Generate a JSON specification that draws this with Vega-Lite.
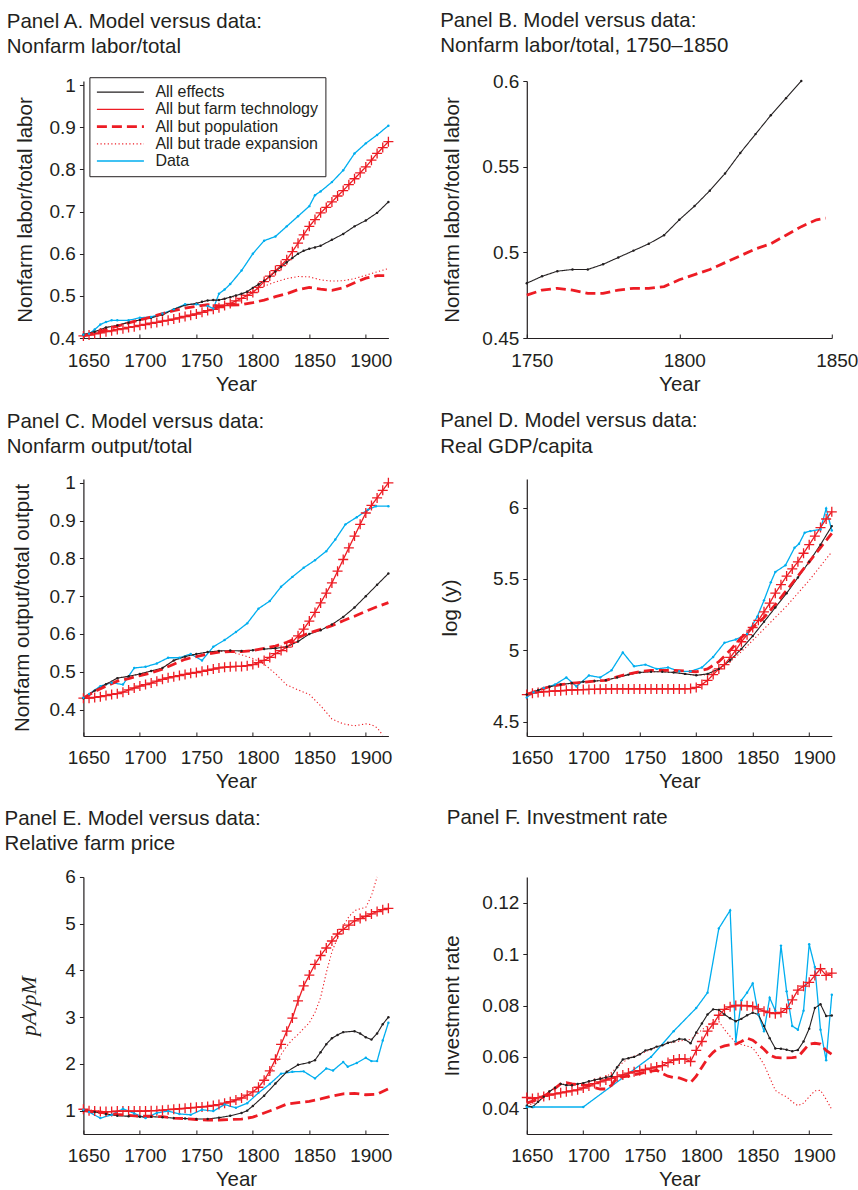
{
"$schema": "https://vega.github.io/schema/vega-lite/v6.json",
"background": "white",
"padding": {"left": 4.4, "top": 10, "right": 10, "bottom": 5},
"bounds": "flush",
"columns": 2,
"spacing": {"row": 141, "column": 138.4},
"config": {
 "view": {"stroke": null},
 "font": "Liberation Sans",
 "title": {"font": "Liberation Sans", "fontSize": 20.5, "fontWeight": "normal", "color": "#231f20", "anchor": "start", "frame": "group", "lineHeight": 25.7, "offset": 20},
 "axis": {"labelFont": "Liberation Sans", "labelFontSize": 19, "labelColor": "#231f20", "titleFont": "Liberation Sans", "titleFontSize": 20.5, "titleFontWeight": "normal", "titleColor": "#231f20", "domainColor": "#231f20", "domainWidth": 1.2, "tickColor": "#231f20", "tickWidth": 1, "grid": false, "labelFlush": false, "labelOverlap": false, "labelBound": false},
 "axisX": {"tickSize": -4, "labelPadding": 17, "labelOffset": 5, "titlePadding": 4, "format": "d"},
 "axisY": {"tickSize": 4, "labelPadding": 4, "format": "~g"}
},
"resolve": {"scale": {"color": "independent", "strokeDash": "independent"}, "legend": {"color": "independent", "strokeDash": "independent"}},
"datasets": {
"A": [
{"series":"DA","year":1650,"value":0.408},{"series":"DA","year":1655,"value":0.41},{"series":"DA","year":1660,"value":0.42},{"series":"DA","year":1665,"value":0.432},{"series":"DA","year":1670,"value":0.438},{"series":"DA","year":1675,"value":0.442},{"series":"DA","year":1680,"value":0.442},{"series":"DA","year":1690,"value":0.442},{"series":"DA","year":1700,"value":0.448},{"series":"DA","year":1710,"value":0.45},{"series":"DA","year":1720,"value":0.458},{"series":"DA","year":1730,"value":0.468},{"series":"DA","year":1740,"value":0.48},{"series":"DA","year":1750,"value":0.48},{"series":"DA","year":1760,"value":0.476},{"series":"DA","year":1765,"value":0.47},{"series":"DA","year":1770,"value":0.505},{"series":"DA","year":1775,"value":0.515},{"series":"DA","year":1780,"value":0.528},{"series":"DA","year":1790,"value":0.56},{"series":"DA","year":1800,"value":0.6},{"series":"DA","year":1810,"value":0.631},{"series":"DA","year":1820,"value":0.641},{"series":"DA","year":1830,"value":0.665},{"series":"DA","year":1840,"value":0.689},{"series":"DA","year":1850,"value":0.713},{"series":"DA","year":1855,"value":0.739},{"series":"DA","year":1860,"value":0.748},{"series":"DA","year":1870,"value":0.77},{"series":"DA","year":1880,"value":0.798},{"series":"DA","year":1890,"value":0.838},{"series":"DA","year":1900,"value":0.862},{"series":"DA","year":1910,"value":0.882},{"series":"DA","year":1920,"value":0.904},
{"series":"TE","year":1650,"value":0.408},{"series":"TE","year":1660,"value":0.415},{"series":"TE","year":1670,"value":0.425},{"series":"TE","year":1680,"value":0.43},{"series":"TE","year":1690,"value":0.437},{"series":"TE","year":1700,"value":0.443},{"series":"TE","year":1710,"value":0.448},{"series":"TE","year":1720,"value":0.455},{"series":"TE","year":1730,"value":0.468},{"series":"TE","year":1740,"value":0.478},{"series":"TE","year":1750,"value":0.482},{"series":"TE","year":1760,"value":0.489},{"series":"TE","year":1770,"value":0.49},{"series":"TE","year":1780,"value":0.496},{"series":"TE","year":1790,"value":0.503},{"series":"TE","year":1800,"value":0.512},{"series":"TE","year":1810,"value":0.523},{"series":"TE","year":1820,"value":0.533},{"series":"TE","year":1830,"value":0.541},{"series":"TE","year":1840,"value":0.546},{"series":"TE","year":1850,"value":0.545},{"series":"TE","year":1860,"value":0.538},{"series":"TE","year":1870,"value":0.535},{"series":"TE","year":1880,"value":0.536},{"series":"TE","year":1890,"value":0.541},{"series":"TE","year":1900,"value":0.549},{"series":"TE","year":1910,"value":0.557},{"series":"TE","year":1920,"value":0.565},
{"series":"AE","year":1650,"value":0.408},{"series":"AE","year":1660,"value":0.415},{"series":"AE","year":1670,"value":0.425},{"series":"AE","year":1680,"value":0.43},{"series":"AE","year":1690,"value":0.437},{"series":"AE","year":1700,"value":0.443},{"series":"AE","year":1710,"value":0.448},{"series":"AE","year":1720,"value":0.455},{"series":"AE","year":1730,"value":0.468},{"series":"AE","year":1740,"value":0.478},{"series":"AE","year":1750,"value":0.482},{"series":"AE","year":1755,"value":0.486},{"series":"AE","year":1760,"value":0.489},{"series":"AE","year":1765,"value":0.49},{"series":"AE","year":1770,"value":0.49},{"series":"AE","year":1775,"value":0.493},{"series":"AE","year":1780,"value":0.497},{"series":"AE","year":1785,"value":0.501},{"series":"AE","year":1790,"value":0.505},{"series":"AE","year":1795,"value":0.51},{"series":"AE","year":1800,"value":0.519},{"series":"AE","year":1805,"value":0.527},{"series":"AE","year":1810,"value":0.536},{"series":"AE","year":1815,"value":0.546},{"series":"AE","year":1820,"value":0.558},{"series":"AE","year":1825,"value":0.569},{"series":"AE","year":1830,"value":0.58},{"series":"AE","year":1835,"value":0.59},{"series":"AE","year":1840,"value":0.6},{"series":"AE","year":1845,"value":0.607},{"series":"AE","year":1850,"value":0.612},{"series":"AE","year":1855,"value":0.615},{"series":"AE","year":1860,"value":0.619},{"series":"AE","year":1870,"value":0.633},{"series":"AE","year":1880,"value":0.647},{"series":"AE","year":1890,"value":0.665},{"series":"AE","year":1900,"value":0.679},{"series":"AE","year":1910,"value":0.697},{"series":"AE","year":1920,"value":0.723},
{"series":"PO","year":1650,"value":0.405},{"series":"PO","year":1660,"value":0.412},{"series":"PO","year":1670,"value":0.42},{"series":"PO","year":1680,"value":0.428},{"series":"PO","year":1690,"value":0.436},{"series":"PO","year":1700,"value":0.443},{"series":"PO","year":1710,"value":0.45},{"series":"PO","year":1720,"value":0.458},{"series":"PO","year":1730,"value":0.465},{"series":"PO","year":1740,"value":0.471},{"series":"PO","year":1750,"value":0.475},{"series":"PO","year":1760,"value":0.479},{"series":"PO","year":1770,"value":0.476},{"series":"PO","year":1780,"value":0.478},{"series":"PO","year":1790,"value":0.479},{"series":"PO","year":1800,"value":0.484},{"series":"PO","year":1810,"value":0.49},{"series":"PO","year":1820,"value":0.498},{"series":"PO","year":1830,"value":0.505},{"series":"PO","year":1840,"value":0.515},{"series":"PO","year":1850,"value":0.52},{"series":"PO","year":1860,"value":0.516},{"series":"PO","year":1870,"value":0.513},{"series":"PO","year":1880,"value":0.519},{"series":"PO","year":1890,"value":0.531},{"series":"PO","year":1900,"value":0.542},{"series":"PO","year":1910,"value":0.548},{"series":"PO","year":1920,"value":0.548},
{"series":"FT","year":1650,"value":0.405},{"series":"FT","year":1655,"value":0.407},{"series":"FT","year":1660,"value":0.41},{"series":"FT","year":1665,"value":0.412},{"series":"FT","year":1670,"value":0.415},{"series":"FT","year":1675,"value":0.417},{"series":"FT","year":1680,"value":0.42},{"series":"FT","year":1685,"value":0.422},{"series":"FT","year":1690,"value":0.425},{"series":"FT","year":1695,"value":0.427},{"series":"FT","year":1700,"value":0.43},{"series":"FT","year":1705,"value":0.432},{"series":"FT","year":1710,"value":0.435},{"series":"FT","year":1715,"value":0.437},{"series":"FT","year":1720,"value":0.44},{"series":"FT","year":1725,"value":0.442},{"series":"FT","year":1730,"value":0.445},{"series":"FT","year":1735,"value":0.448},{"series":"FT","year":1740,"value":0.451},{"series":"FT","year":1745,"value":0.454},{"series":"FT","year":1750,"value":0.457},{"series":"FT","year":1755,"value":0.461},{"series":"FT","year":1760,"value":0.465},{"series":"FT","year":1765,"value":0.468},{"series":"FT","year":1770,"value":0.472},{"series":"FT","year":1775,"value":0.477},{"series":"FT","year":1780,"value":0.482},{"series":"FT","year":1785,"value":0.488},{"series":"FT","year":1790,"value":0.494},{"series":"FT","year":1795,"value":0.501},{"series":"FT","year":1800,"value":0.508},{"series":"FT","year":1805,"value":0.52},{"series":"FT","year":1810,"value":0.534},{"series":"FT","year":1815,"value":0.547},{"series":"FT","year":1820,"value":0.56},{"series":"FT","year":1825,"value":0.572},{"series":"FT","year":1830,"value":0.586},{"series":"FT","year":1835,"value":0.605},{"series":"FT","year":1840,"value":0.625},{"series":"FT","year":1845,"value":0.645},{"series":"FT","year":1850,"value":0.665},{"series":"FT","year":1855,"value":0.681},{"series":"FT","year":1860,"value":0.697},{"series":"FT","year":1865,"value":0.71},{"series":"FT","year":1870,"value":0.723},{"series":"FT","year":1875,"value":0.737},{"series":"FT","year":1880,"value":0.75},{"series":"FT","year":1885,"value":0.764},{"series":"FT","year":1890,"value":0.778},{"series":"FT","year":1895,"value":0.792},{"series":"FT","year":1900,"value":0.806},{"series":"FT","year":1905,"value":0.822},{"series":"FT","year":1910,"value":0.838},{"series":"FT","year":1915,"value":0.852},{"series":"FT","year":1920,"value":0.866}
],
"B": [
{"series":"AE","year":1750,"value":0.482},{"series":"AE","year":1755,"value":0.486},{"series":"AE","year":1760,"value":0.489},{"series":"AE","year":1765,"value":0.49},{"series":"AE","year":1770,"value":0.49},{"series":"AE","year":1775,"value":0.493},{"series":"AE","year":1780,"value":0.497},{"series":"AE","year":1785,"value":0.501},{"series":"AE","year":1790,"value":0.505},{"series":"AE","year":1795,"value":0.51},{"series":"AE","year":1800,"value":0.519},{"series":"AE","year":1805,"value":0.527},{"series":"AE","year":1810,"value":0.536},{"series":"AE","year":1815,"value":0.546},{"series":"AE","year":1820,"value":0.558},{"series":"AE","year":1825,"value":0.569},{"series":"AE","year":1830,"value":0.58},{"series":"AE","year":1835,"value":0.59},{"series":"AE","year":1840,"value":0.6},
{"series":"PO","year":1750,"value":0.475},{"series":"PO","year":1755,"value":0.478},{"series":"PO","year":1760,"value":0.479},{"series":"PO","year":1765,"value":0.478},{"series":"PO","year":1770,"value":0.476},{"series":"PO","year":1775,"value":0.476},{"series":"PO","year":1780,"value":0.478},{"series":"PO","year":1785,"value":0.479},{"series":"PO","year":1790,"value":0.479},{"series":"PO","year":1795,"value":0.48},{"series":"PO","year":1800,"value":0.484},{"series":"PO","year":1805,"value":0.487},{"series":"PO","year":1810,"value":0.49},{"series":"PO","year":1815,"value":0.494},{"series":"PO","year":1820,"value":0.498},{"series":"PO","year":1825,"value":0.502},{"series":"PO","year":1830,"value":0.505},{"series":"PO","year":1835,"value":0.51},{"series":"PO","year":1840,"value":0.515},{"series":"PO","year":1845,"value":0.519},{"series":"PO","year":1848,"value":0.52}
],
"C": [
{"series":"DA","year":1650,"value":0.431},{"series":"DA","year":1655,"value":0.441},{"series":"DA","year":1665,"value":0.462},{"series":"DA","year":1675,"value":0.471},{"series":"DA","year":1685,"value":0.466},{"series":"DA","year":1695,"value":0.51},{"series":"DA","year":1705,"value":0.513},{"series":"DA","year":1715,"value":0.522},{"series":"DA","year":1725,"value":0.537},{"series":"DA","year":1735,"value":0.537},{"series":"DA","year":1745,"value":0.547},{"series":"DA","year":1755,"value":0.53},{"series":"DA","year":1765,"value":0.566},{"series":"DA","year":1775,"value":0.584},{"series":"DA","year":1785,"value":0.605},{"series":"DA","year":1795,"value":0.628},{"series":"DA","year":1805,"value":0.667},{"series":"DA","year":1815,"value":0.687},{"series":"DA","year":1825,"value":0.725},{"series":"DA","year":1835,"value":0.751},{"series":"DA","year":1845,"value":0.775},{"series":"DA","year":1855,"value":0.795},{"series":"DA","year":1865,"value":0.819},{"series":"DA","year":1873,"value":0.85},{"series":"DA","year":1882,"value":0.89},{"series":"DA","year":1892,"value":0.909},{"series":"DA","year":1902,"value":0.929},{"series":"DA","year":1909,"value":0.938},{"series":"DA","year":1920,"value":0.938},
{"series":"TE","year":1650,"value":0.43},{"series":"TE","year":1660,"value":0.45},{"series":"TE","year":1670,"value":0.467},{"series":"TE","year":1680,"value":0.483},{"series":"TE","year":1690,"value":0.488},{"series":"TE","year":1700,"value":0.494},{"series":"TE","year":1710,"value":0.502},{"series":"TE","year":1720,"value":0.51},{"series":"TE","year":1730,"value":0.53},{"series":"TE","year":1740,"value":0.54},{"series":"TE","year":1750,"value":0.547},{"series":"TE","year":1760,"value":0.552},{"series":"TE","year":1770,"value":0.555},{"series":"TE","year":1780,"value":0.553},{"series":"TE","year":1790,"value":0.545},{"series":"TE","year":1800,"value":0.535},{"series":"TE","year":1810,"value":0.52},{"series":"TE","year":1820,"value":0.495},{"series":"TE","year":1830,"value":0.465},{"series":"TE","year":1840,"value":0.452},{"series":"TE","year":1850,"value":0.44},{"series":"TE","year":1860,"value":0.41},{"series":"TE","year":1870,"value":0.375},{"series":"TE","year":1880,"value":0.362},{"series":"TE","year":1890,"value":0.357},{"series":"TE","year":1900,"value":0.362},{"series":"TE","year":1905,"value":0.36},{"series":"TE","year":1910,"value":0.352},{"series":"TE","year":1915,"value":0.332},
{"series":"AE","year":1650,"value":0.43},{"series":"AE","year":1660,"value":0.45},{"series":"AE","year":1670,"value":0.467},{"series":"AE","year":1680,"value":0.483},{"series":"AE","year":1690,"value":0.488},{"series":"AE","year":1700,"value":0.494},{"series":"AE","year":1710,"value":0.502},{"series":"AE","year":1720,"value":0.51},{"series":"AE","year":1730,"value":0.53},{"series":"AE","year":1740,"value":0.54},{"series":"AE","year":1750,"value":0.547},{"series":"AE","year":1760,"value":0.552},{"series":"AE","year":1770,"value":0.555},{"series":"AE","year":1780,"value":0.556},{"series":"AE","year":1790,"value":0.555},{"series":"AE","year":1800,"value":0.557},{"series":"AE","year":1810,"value":0.56},{"series":"AE","year":1820,"value":0.562},{"series":"AE","year":1830,"value":0.566},{"series":"AE","year":1840,"value":0.58},{"series":"AE","year":1850,"value":0.6},{"series":"AE","year":1860,"value":0.61},{"series":"AE","year":1870,"value":0.625},{"series":"AE","year":1880,"value":0.645},{"series":"AE","year":1890,"value":0.67},{"series":"AE","year":1900,"value":0.7},{"series":"AE","year":1910,"value":0.73},{"series":"AE","year":1920,"value":0.76},
{"series":"PO","year":1650,"value":0.43},{"series":"PO","year":1660,"value":0.448},{"series":"PO","year":1670,"value":0.462},{"series":"PO","year":1680,"value":0.475},{"series":"PO","year":1690,"value":0.482},{"series":"PO","year":1700,"value":0.49},{"series":"PO","year":1710,"value":0.497},{"series":"PO","year":1720,"value":0.507},{"series":"PO","year":1730,"value":0.52},{"series":"PO","year":1740,"value":0.533},{"series":"PO","year":1750,"value":0.54},{"series":"PO","year":1760,"value":0.547},{"series":"PO","year":1770,"value":0.552},{"series":"PO","year":1780,"value":0.553},{"series":"PO","year":1790,"value":0.553},{"series":"PO","year":1800,"value":0.556},{"series":"PO","year":1810,"value":0.562},{"series":"PO","year":1820,"value":0.568},{"series":"PO","year":1830,"value":0.578},{"series":"PO","year":1840,"value":0.59},{"series":"PO","year":1850,"value":0.603},{"series":"PO","year":1860,"value":0.612},{"series":"PO","year":1870,"value":0.622},{"series":"PO","year":1880,"value":0.635},{"series":"PO","year":1890,"value":0.647},{"series":"PO","year":1900,"value":0.66},{"series":"PO","year":1910,"value":0.672},{"series":"PO","year":1920,"value":0.683},
{"series":"FT","year":1650,"value":0.43},{"series":"FT","year":1655,"value":0.43},{"series":"FT","year":1660,"value":0.432},{"series":"FT","year":1665,"value":0.434},{"series":"FT","year":1670,"value":0.437},{"series":"FT","year":1675,"value":0.44},{"series":"FT","year":1680,"value":0.442},{"series":"FT","year":1685,"value":0.446},{"series":"FT","year":1690,"value":0.452},{"series":"FT","year":1695,"value":0.457},{"series":"FT","year":1700,"value":0.462},{"series":"FT","year":1705,"value":0.466},{"series":"FT","year":1710,"value":0.47},{"series":"FT","year":1715,"value":0.475},{"series":"FT","year":1720,"value":0.48},{"series":"FT","year":1725,"value":0.484},{"series":"FT","year":1730,"value":0.487},{"series":"FT","year":1735,"value":0.49},{"series":"FT","year":1740,"value":0.493},{"series":"FT","year":1745,"value":0.496},{"series":"FT","year":1750,"value":0.498},{"series":"FT","year":1755,"value":0.501},{"series":"FT","year":1760,"value":0.504},{"series":"FT","year":1765,"value":0.507},{"series":"FT","year":1770,"value":0.51},{"series":"FT","year":1775,"value":0.512},{"series":"FT","year":1780,"value":0.513},{"series":"FT","year":1785,"value":0.514},{"series":"FT","year":1790,"value":0.514},{"series":"FT","year":1795,"value":0.516},{"series":"FT","year":1800,"value":0.519},{"series":"FT","year":1805,"value":0.524},{"series":"FT","year":1810,"value":0.53},{"series":"FT","year":1815,"value":0.538},{"series":"FT","year":1820,"value":0.548},{"series":"FT","year":1825,"value":0.556},{"series":"FT","year":1830,"value":0.565},{"series":"FT","year":1835,"value":0.578},{"series":"FT","year":1840,"value":0.595},{"series":"FT","year":1845,"value":0.613},{"series":"FT","year":1850,"value":0.634},{"series":"FT","year":1855,"value":0.657},{"series":"FT","year":1860,"value":0.682},{"series":"FT","year":1865,"value":0.708},{"series":"FT","year":1870,"value":0.735},{"series":"FT","year":1875,"value":0.766},{"series":"FT","year":1880,"value":0.797},{"series":"FT","year":1885,"value":0.828},{"series":"FT","year":1890,"value":0.859},{"series":"FT","year":1895,"value":0.89},{"series":"FT","year":1900,"value":0.92},{"series":"FT","year":1905,"value":0.94},{"series":"FT","year":1910,"value":0.96},{"series":"FT","year":1915,"value":0.98},{"series":"FT","year":1920,"value":1.0}
],
"D": [
{"series":"DA","year":1650,"value":4.67},{"series":"DA","year":1656,"value":4.707},{"series":"DA","year":1665,"value":4.737},{"series":"DA","year":1675,"value":4.76},{"series":"DA","year":1685,"value":4.81},{"series":"DA","year":1694,"value":4.747},{"series":"DA","year":1705,"value":4.824},{"series":"DA","year":1715,"value":4.81},{"series":"DA","year":1725,"value":4.86},{"series":"DA","year":1735,"value":4.985},{"series":"DA","year":1745,"value":4.888},{"series":"DA","year":1755,"value":4.9},{"series":"DA","year":1765,"value":4.87},{"series":"DA","year":1775,"value":4.88},{"series":"DA","year":1785,"value":4.853},{"series":"DA","year":1795,"value":4.853},{"series":"DA","year":1805,"value":4.88},{"series":"DA","year":1815,"value":4.954},{"series":"DA","year":1825,"value":5.053},{"series":"DA","year":1835,"value":5.076},{"series":"DA","year":1845,"value":5.114},{"series":"DA","year":1854,"value":5.236},{"series":"DA","year":1860,"value":5.35},{"series":"DA","year":1866,"value":5.476},{"series":"DA","year":1870,"value":5.549},{"series":"DA","year":1879,"value":5.596},{"series":"DA","year":1887,"value":5.718},{"series":"DA","year":1891,"value":5.746},{"series":"DA","year":1896,"value":5.824},{"series":"DA","year":1901,"value":5.835},{"series":"DA","year":1910,"value":5.847},{"series":"DA","year":1915,"value":5.993},{"series":"DA","year":1920,"value":5.84},
{"series":"TE","year":1650,"value":4.69},{"series":"TE","year":1660,"value":4.72},{"series":"TE","year":1670,"value":4.745},{"series":"TE","year":1680,"value":4.76},{"series":"TE","year":1690,"value":4.77},{"series":"TE","year":1700,"value":4.78},{"series":"TE","year":1710,"value":4.785},{"series":"TE","year":1720,"value":4.79},{"series":"TE","year":1730,"value":4.81},{"series":"TE","year":1740,"value":4.83},{"series":"TE","year":1750,"value":4.845},{"series":"TE","year":1760,"value":4.85},{"series":"TE","year":1770,"value":4.85},{"series":"TE","year":1780,"value":4.845},{"series":"TE","year":1790,"value":4.835},{"series":"TE","year":1800,"value":4.825},{"series":"TE","year":1810,"value":4.83},{"series":"TE","year":1820,"value":4.86},{"series":"TE","year":1830,"value":4.92},{"series":"TE","year":1840,"value":4.99},{"series":"TE","year":1850,"value":5.07},{"series":"TE","year":1860,"value":5.15},{"series":"TE","year":1870,"value":5.23},{"series":"TE","year":1880,"value":5.31},{"series":"TE","year":1890,"value":5.4},{"series":"TE","year":1900,"value":5.49},{"series":"TE","year":1910,"value":5.59},{"series":"TE","year":1920,"value":5.69},
{"series":"AE","year":1650,"value":4.69},{"series":"AE","year":1660,"value":4.72},{"series":"AE","year":1670,"value":4.745},{"series":"AE","year":1680,"value":4.76},{"series":"AE","year":1690,"value":4.77},{"series":"AE","year":1700,"value":4.78},{"series":"AE","year":1710,"value":4.785},{"series":"AE","year":1720,"value":4.79},{"series":"AE","year":1730,"value":4.81},{"series":"AE","year":1740,"value":4.83},{"series":"AE","year":1750,"value":4.845},{"series":"AE","year":1760,"value":4.85},{"series":"AE","year":1770,"value":4.85},{"series":"AE","year":1780,"value":4.845},{"series":"AE","year":1790,"value":4.835},{"series":"AE","year":1800,"value":4.825},{"series":"AE","year":1810,"value":4.835},{"series":"AE","year":1820,"value":4.87},{"series":"AE","year":1830,"value":4.93},{"series":"AE","year":1840,"value":5.01},{"series":"AE","year":1850,"value":5.1},{"series":"AE","year":1860,"value":5.2},{"series":"AE","year":1870,"value":5.3},{"series":"AE","year":1880,"value":5.4},{"series":"AE","year":1890,"value":5.51},{"series":"AE","year":1900,"value":5.62},{"series":"AE","year":1910,"value":5.74},{"series":"AE","year":1920,"value":5.87},
{"series":"PO","year":1650,"value":4.69},{"series":"PO","year":1660,"value":4.72},{"series":"PO","year":1670,"value":4.745},{"series":"PO","year":1680,"value":4.76},{"series":"PO","year":1690,"value":4.77},{"series":"PO","year":1700,"value":4.775},{"series":"PO","year":1710,"value":4.785},{"series":"PO","year":1720,"value":4.79},{"series":"PO","year":1730,"value":4.815},{"series":"PO","year":1740,"value":4.835},{"series":"PO","year":1750,"value":4.85},{"series":"PO","year":1760,"value":4.86},{"series":"PO","year":1770,"value":4.86},{"series":"PO","year":1780,"value":4.86},{"series":"PO","year":1790,"value":4.855},{"series":"PO","year":1800,"value":4.85},{"series":"PO","year":1810,"value":4.87},{"series":"PO","year":1820,"value":4.92},{"series":"PO","year":1830,"value":5.0},{"series":"PO","year":1840,"value":5.09},{"series":"PO","year":1850,"value":5.16},{"series":"PO","year":1860,"value":5.23},{"series":"PO","year":1870,"value":5.32},{"series":"PO","year":1880,"value":5.42},{"series":"PO","year":1890,"value":5.52},{"series":"PO","year":1900,"value":5.62},{"series":"PO","year":1910,"value":5.72},{"series":"PO","year":1920,"value":5.82},
{"series":"FT","year":1650,"value":4.69},{"series":"FT","year":1655,"value":4.7},{"series":"FT","year":1660,"value":4.705},{"series":"FT","year":1665,"value":4.71},{"series":"FT","year":1670,"value":4.712},{"series":"FT","year":1675,"value":4.715},{"series":"FT","year":1680,"value":4.717},{"series":"FT","year":1685,"value":4.72},{"series":"FT","year":1690,"value":4.722},{"series":"FT","year":1695,"value":4.724},{"series":"FT","year":1700,"value":4.725},{"series":"FT","year":1705,"value":4.726},{"series":"FT","year":1710,"value":4.727},{"series":"FT","year":1715,"value":4.728},{"series":"FT","year":1720,"value":4.729},{"series":"FT","year":1725,"value":4.73},{"series":"FT","year":1730,"value":4.73},{"series":"FT","year":1735,"value":4.73},{"series":"FT","year":1740,"value":4.73},{"series":"FT","year":1745,"value":4.73},{"series":"FT","year":1750,"value":4.73},{"series":"FT","year":1755,"value":4.73},{"series":"FT","year":1760,"value":4.73},{"series":"FT","year":1765,"value":4.73},{"series":"FT","year":1770,"value":4.73},{"series":"FT","year":1775,"value":4.73},{"series":"FT","year":1780,"value":4.73},{"series":"FT","year":1785,"value":4.73},{"series":"FT","year":1790,"value":4.73},{"series":"FT","year":1795,"value":4.732},{"series":"FT","year":1800,"value":4.74},{"series":"FT","year":1805,"value":4.76},{"series":"FT","year":1810,"value":4.79},{"series":"FT","year":1815,"value":4.83},{"series":"FT","year":1820,"value":4.87},{"series":"FT","year":1825,"value":4.9},{"series":"FT","year":1830,"value":4.95},{"series":"FT","year":1835,"value":5.0},{"series":"FT","year":1840,"value":5.06},{"series":"FT","year":1845,"value":5.11},{"series":"FT","year":1850,"value":5.16},{"series":"FT","year":1855,"value":5.21},{"series":"FT","year":1860,"value":5.27},{"series":"FT","year":1865,"value":5.33},{"series":"FT","year":1870,"value":5.4},{"series":"FT","year":1875,"value":5.46},{"series":"FT","year":1880,"value":5.52},{"series":"FT","year":1885,"value":5.57},{"series":"FT","year":1890,"value":5.62},{"series":"FT","year":1895,"value":5.68},{"series":"FT","year":1900,"value":5.74},{"series":"FT","year":1905,"value":5.8},{"series":"FT","year":1910,"value":5.86},{"series":"FT","year":1915,"value":5.92},{"series":"FT","year":1920,"value":5.97}
],
"E": [
{"series":"DA","year":1650,"value":1.02},{"series":"DA","year":1655,"value":0.97},{"series":"DA","year":1665,"value":0.84},{"series":"DA","year":1675,"value":0.91},{"series":"DA","year":1685,"value":1.04},{"series":"DA","year":1695,"value":0.94},{"series":"DA","year":1705,"value":0.84},{"series":"DA","year":1715,"value":0.95},{"series":"DA","year":1725,"value":0.99},{"series":"DA","year":1735,"value":0.93},{"series":"DA","year":1745,"value":0.91},{"series":"DA","year":1755,"value":1.02},{"series":"DA","year":1765,"value":0.99},{"series":"DA","year":1775,"value":1.13},{"series":"DA","year":1785,"value":1.06},{"series":"DA","year":1795,"value":1.16},{"series":"DA","year":1805,"value":1.38},{"series":"DA","year":1815,"value":1.57},{"series":"DA","year":1825,"value":1.79},{"series":"DA","year":1835,"value":1.83},{"series":"DA","year":1845,"value":1.84},{"series":"DA","year":1855,"value":1.69},{"series":"DA","year":1865,"value":1.9},{"series":"DA","year":1871,"value":1.86},{"series":"DA","year":1880,"value":2.04},{"series":"DA","year":1884,"value":1.94},{"series":"DA","year":1892,"value":2.02},{"series":"DA","year":1900,"value":2.13},{"series":"DA","year":1905,"value":2.06},{"series":"DA","year":1910,"value":2.06},{"series":"DA","year":1915,"value":2.5},{"series":"DA","year":1920,"value":2.88},
{"series":"TE","year":1650,"value":1.03},{"series":"TE","year":1670,"value":0.98},{"series":"TE","year":1690,"value":0.99},{"series":"TE","year":1710,"value":1.0},{"series":"TE","year":1730,"value":1.03},{"series":"TE","year":1750,"value":1.07},{"series":"TE","year":1770,"value":1.13},{"series":"TE","year":1780,"value":1.19},{"series":"TE","year":1790,"value":1.27},{"series":"TE","year":1800,"value":1.4},{"series":"TE","year":1810,"value":1.63},{"series":"TE","year":1815,"value":1.8},{"series":"TE","year":1820,"value":2.0},{"series":"TE","year":1825,"value":2.2},{"series":"TE","year":1830,"value":2.38},{"series":"TE","year":1835,"value":2.52},{"series":"TE","year":1840,"value":2.63},{"series":"TE","year":1845,"value":2.76},{"series":"TE","year":1850,"value":2.88},{"series":"TE","year":1855,"value":3.1},{"series":"TE","year":1860,"value":3.42},{"series":"TE","year":1865,"value":3.95},{"series":"TE","year":1870,"value":4.4},{"series":"TE","year":1875,"value":4.7},{"series":"TE","year":1880,"value":4.95},{"series":"TE","year":1885,"value":5.15},{"series":"TE","year":1890,"value":5.28},{"series":"TE","year":1895,"value":5.32},{"series":"TE","year":1900,"value":5.35},{"series":"TE","year":1905,"value":5.6},{"series":"TE","year":1910,"value":6.0},
{"series":"AE","year":1650,"value":1.0},{"series":"AE","year":1660,"value":0.97},{"series":"AE","year":1670,"value":0.93},{"series":"AE","year":1680,"value":0.89},{"series":"AE","year":1690,"value":0.88},{"series":"AE","year":1700,"value":0.87},{"series":"AE","year":1710,"value":0.87},{"series":"AE","year":1720,"value":0.86},{"series":"AE","year":1730,"value":0.84},{"series":"AE","year":1740,"value":0.83},{"series":"AE","year":1750,"value":0.82},{"series":"AE","year":1760,"value":0.82},{"series":"AE","year":1770,"value":0.85},{"series":"AE","year":1780,"value":0.89},{"series":"AE","year":1790,"value":0.95},{"series":"AE","year":1795,"value":1.0},{"series":"AE","year":1800,"value":1.1},{"series":"AE","year":1810,"value":1.32},{"series":"AE","year":1820,"value":1.58},{"series":"AE","year":1830,"value":1.83},{"series":"AE","year":1840,"value":1.98},{"series":"AE","year":1850,"value":2.03},{"series":"AE","year":1855,"value":2.08},{"series":"AE","year":1860,"value":2.25},{"series":"AE","year":1865,"value":2.42},{"series":"AE","year":1870,"value":2.55},{"series":"AE","year":1875,"value":2.62},{"series":"AE","year":1880,"value":2.68},{"series":"AE","year":1890,"value":2.7},{"series":"AE","year":1895,"value":2.65},{"series":"AE","year":1900,"value":2.57},{"series":"AE","year":1905,"value":2.52},{"series":"AE","year":1910,"value":2.65},{"series":"AE","year":1915,"value":2.85},{"series":"AE","year":1920,"value":3.0},
{"series":"PO","year":1650,"value":1.0},{"series":"PO","year":1660,"value":0.97},{"series":"PO","year":1670,"value":0.95},{"series":"PO","year":1680,"value":0.92},{"series":"PO","year":1690,"value":0.9},{"series":"PO","year":1700,"value":0.88},{"series":"PO","year":1710,"value":0.88},{"series":"PO","year":1720,"value":0.87},{"series":"PO","year":1730,"value":0.84},{"series":"PO","year":1740,"value":0.83},{"series":"PO","year":1750,"value":0.81},{"series":"PO","year":1760,"value":0.8},{"series":"PO","year":1770,"value":0.8},{"series":"PO","year":1780,"value":0.81},{"series":"PO","year":1790,"value":0.82},{"series":"PO","year":1800,"value":0.86},{"series":"PO","year":1810,"value":0.95},{"series":"PO","year":1820,"value":1.04},{"series":"PO","year":1830,"value":1.14},{"series":"PO","year":1840,"value":1.17},{"series":"PO","year":1850,"value":1.2},{"series":"PO","year":1860,"value":1.25},{"series":"PO","year":1870,"value":1.31},{"series":"PO","year":1880,"value":1.36},{"series":"PO","year":1890,"value":1.37},{"series":"PO","year":1900,"value":1.34},{"series":"PO","year":1910,"value":1.35},{"series":"PO","year":1920,"value":1.47},
{"series":"FT","year":1650,"value":1.03},{"series":"FT","year":1655,"value":1.0},{"series":"FT","year":1660,"value":0.99},{"series":"FT","year":1665,"value":0.98},{"series":"FT","year":1670,"value":0.98},{"series":"FT","year":1675,"value":0.98},{"series":"FT","year":1680,"value":0.99},{"series":"FT","year":1685,"value":0.99},{"series":"FT","year":1690,"value":0.99},{"series":"FT","year":1695,"value":0.99},{"series":"FT","year":1700,"value":0.99},{"series":"FT","year":1705,"value":0.99},{"series":"FT","year":1710,"value":1.0},{"series":"FT","year":1715,"value":1.0},{"series":"FT","year":1720,"value":1.01},{"series":"FT","year":1725,"value":1.02},{"series":"FT","year":1730,"value":1.03},{"series":"FT","year":1735,"value":1.04},{"series":"FT","year":1740,"value":1.05},{"series":"FT","year":1745,"value":1.06},{"series":"FT","year":1750,"value":1.07},{"series":"FT","year":1755,"value":1.08},{"series":"FT","year":1760,"value":1.09},{"series":"FT","year":1765,"value":1.11},{"series":"FT","year":1770,"value":1.13},{"series":"FT","year":1775,"value":1.16},{"series":"FT","year":1780,"value":1.19},{"series":"FT","year":1785,"value":1.23},{"series":"FT","year":1790,"value":1.27},{"series":"FT","year":1795,"value":1.33},{"series":"FT","year":1800,"value":1.4},{"series":"FT","year":1805,"value":1.5},{"series":"FT","year":1810,"value":1.65},{"series":"FT","year":1815,"value":1.85},{"series":"FT","year":1820,"value":2.1},{"series":"FT","year":1825,"value":2.42},{"series":"FT","year":1830,"value":2.7},{"series":"FT","year":1835,"value":2.98},{"series":"FT","year":1840,"value":3.35},{"series":"FT","year":1845,"value":3.67},{"series":"FT","year":1850,"value":3.9},{"series":"FT","year":1855,"value":4.13},{"series":"FT","year":1860,"value":4.32},{"series":"FT","year":1865,"value":4.48},{"series":"FT","year":1870,"value":4.63},{"series":"FT","year":1875,"value":4.78},{"series":"FT","year":1880,"value":4.88},{"series":"FT","year":1885,"value":4.97},{"series":"FT","year":1890,"value":5.06},{"series":"FT","year":1895,"value":5.11},{"series":"FT","year":1900,"value":5.16},{"series":"FT","year":1905,"value":5.21},{"series":"FT","year":1910,"value":5.26},{"series":"FT","year":1915,"value":5.3},{"series":"FT","year":1920,"value":5.33}
],
"F": [
{"series":"DA","year":1650,"value":0.0405},{"series":"DA","year":1656,"value":0.0405},{"series":"DA","year":1700,"value":0.0405},{"series":"DA","year":1760,"value":0.06},{"series":"DA","year":1780,"value":0.07},{"series":"DA","year":1800,"value":0.079},{"series":"DA","year":1810,"value":0.085},{"series":"DA","year":1820,"value":0.11},{"series":"DA","year":1830,"value":0.117},{"series":"DA","year":1835,"value":0.066},{"series":"DA","year":1840,"value":0.082},{"series":"DA","year":1845,"value":0.085},{"series":"DA","year":1850,"value":0.0886},{"series":"DA","year":1855,"value":0.0765},{"series":"DA","year":1860,"value":0.07},{"series":"DA","year":1865,"value":0.083},{"series":"DA","year":1870,"value":0.078},{"series":"DA","year":1875,"value":0.1033},{"series":"DA","year":1880,"value":0.0855},{"series":"DA","year":1885,"value":0.072},{"series":"DA","year":1890,"value":0.0706},{"series":"DA","year":1895,"value":0.078},{"series":"DA","year":1900,"value":0.1038},{"series":"DA","year":1905,"value":0.095},{"series":"DA","year":1910,"value":0.0706},{"series":"DA","year":1915,"value":0.0587},{"series":"DA","year":1920,"value":0.0842},
{"series":"TE","year":1650,"value":0.041},{"series":"TE","year":1660,"value":0.0425},{"series":"TE","year":1670,"value":0.0465},{"series":"TE","year":1680,"value":0.0495},{"series":"TE","year":1690,"value":0.049},{"series":"TE","year":1700,"value":0.0498},{"series":"TE","year":1710,"value":0.051},{"series":"TE","year":1720,"value":0.052},{"series":"TE","year":1730,"value":0.056},{"series":"TE","year":1740,"value":0.0595},{"series":"TE","year":1750,"value":0.061},{"series":"TE","year":1760,"value":0.063},{"series":"TE","year":1770,"value":0.0645},{"series":"TE","year":1780,"value":0.0658},{"series":"TE","year":1790,"value":0.0665},{"series":"TE","year":1795,"value":0.0668},{"series":"TE","year":1800,"value":0.0686},{"series":"TE","year":1805,"value":0.0705},{"series":"TE","year":1810,"value":0.0722},{"series":"TE","year":1815,"value":0.0735},{"series":"TE","year":1820,"value":0.0738},{"series":"TE","year":1825,"value":0.0706},{"series":"TE","year":1830,"value":0.068},{"series":"TE","year":1835,"value":0.0655},{"series":"TE","year":1840,"value":0.0648},{"series":"TE","year":1845,"value":0.0642},{"series":"TE","year":1850,"value":0.0635},{"series":"TE","year":1855,"value":0.0605},{"series":"TE","year":1860,"value":0.057},{"series":"TE","year":1865,"value":0.052},{"series":"TE","year":1870,"value":0.047},{"series":"TE","year":1875,"value":0.0455},{"series":"TE","year":1880,"value":0.0445},{"series":"TE","year":1885,"value":0.0425},{"series":"TE","year":1890,"value":0.041},{"series":"TE","year":1895,"value":0.042},{"series":"TE","year":1900,"value":0.0445},{"series":"TE","year":1905,"value":0.0468},{"series":"TE","year":1910,"value":0.047},{"series":"TE","year":1915,"value":0.0435},{"series":"TE","year":1920,"value":0.0395},
{"series":"AE","year":1650,"value":0.041},{"series":"AE","year":1655,"value":0.0405},{"series":"AE","year":1660,"value":0.0425},{"series":"AE","year":1665,"value":0.0445},{"series":"AE","year":1670,"value":0.0465},{"series":"AE","year":1675,"value":0.048},{"series":"AE","year":1680,"value":0.0495},{"series":"AE","year":1685,"value":0.049},{"series":"AE","year":1690,"value":0.049},{"series":"AE","year":1695,"value":0.0495},{"series":"AE","year":1700,"value":0.0498},{"series":"AE","year":1705,"value":0.0505},{"series":"AE","year":1710,"value":0.051},{"series":"AE","year":1715,"value":0.0515},{"series":"AE","year":1720,"value":0.052},{"series":"AE","year":1725,"value":0.0525},{"series":"AE","year":1730,"value":0.056},{"series":"AE","year":1735,"value":0.059},{"series":"AE","year":1740,"value":0.0595},{"series":"AE","year":1745,"value":0.06},{"series":"AE","year":1750,"value":0.061},{"series":"AE","year":1755,"value":0.0625},{"series":"AE","year":1760,"value":0.063},{"series":"AE","year":1765,"value":0.064},{"series":"AE","year":1770,"value":0.0645},{"series":"AE","year":1775,"value":0.0655},{"series":"AE","year":1780,"value":0.066},{"series":"AE","year":1785,"value":0.067},{"series":"AE","year":1790,"value":0.0668},{"series":"AE","year":1795,"value":0.0653},{"series":"AE","year":1800,"value":0.0695},{"series":"AE","year":1805,"value":0.073},{"series":"AE","year":1810,"value":0.0765},{"series":"AE","year":1815,"value":0.0785},{"series":"AE","year":1820,"value":0.0783},{"series":"AE","year":1825,"value":0.0765},{"series":"AE","year":1830,"value":0.075},{"series":"AE","year":1835,"value":0.0739},{"series":"AE","year":1840,"value":0.0748},{"series":"AE","year":1845,"value":0.0762},{"series":"AE","year":1850,"value":0.0772},{"series":"AE","year":1855,"value":0.0765},{"series":"AE","year":1860,"value":0.072},{"series":"AE","year":1865,"value":0.0673},{"series":"AE","year":1870,"value":0.0633},{"series":"AE","year":1875,"value":0.0632},{"series":"AE","year":1880,"value":0.0628},{"series":"AE","year":1885,"value":0.0622},{"series":"AE","year":1890,"value":0.0627},{"series":"AE","year":1895,"value":0.066},{"series":"AE","year":1900,"value":0.071},{"series":"AE","year":1905,"value":0.079},{"series":"AE","year":1910,"value":0.0805},{"series":"AE","year":1915,"value":0.0759},{"series":"AE","year":1920,"value":0.0761},
{"series":"PO","year":1650,"value":0.042},{"series":"PO","year":1660,"value":0.0435},{"series":"PO","year":1670,"value":0.046},{"series":"PO","year":1680,"value":0.0495},{"series":"PO","year":1685,"value":0.05},{"series":"PO","year":1690,"value":0.0495},{"series":"PO","year":1700,"value":0.049},{"series":"PO","year":1705,"value":0.049},{"series":"PO","year":1710,"value":0.048},{"series":"PO","year":1715,"value":0.0475},{"series":"PO","year":1720,"value":0.0475},{"series":"PO","year":1725,"value":0.049},{"series":"PO","year":1730,"value":0.052},{"series":"PO","year":1740,"value":0.0525},{"series":"PO","year":1750,"value":0.0535},{"series":"PO","year":1760,"value":0.0545},{"series":"PO","year":1765,"value":0.0548},{"series":"PO","year":1770,"value":0.0535},{"series":"PO","year":1775,"value":0.0525},{"series":"PO","year":1780,"value":0.052},{"series":"PO","year":1785,"value":0.0518},{"series":"PO","year":1790,"value":0.051},{"series":"PO","year":1795,"value":0.05},{"series":"PO","year":1800,"value":0.0525},{"series":"PO","year":1805,"value":0.056},{"series":"PO","year":1810,"value":0.0594},{"series":"PO","year":1815,"value":0.0618},{"series":"PO","year":1820,"value":0.0635},{"series":"PO","year":1825,"value":0.0643},{"series":"PO","year":1830,"value":0.0647},{"series":"PO","year":1835,"value":0.065},{"series":"PO","year":1840,"value":0.066},{"series":"PO","year":1845,"value":0.0673},{"series":"PO","year":1850,"value":0.0665},{"series":"PO","year":1855,"value":0.0648},{"series":"PO","year":1860,"value":0.063},{"series":"PO","year":1865,"value":0.0607},{"series":"PO","year":1870,"value":0.0598},{"series":"PO","year":1875,"value":0.0596},{"series":"PO","year":1880,"value":0.0596},{"series":"PO","year":1885,"value":0.0597},{"series":"PO","year":1890,"value":0.06},{"series":"PO","year":1895,"value":0.0625},{"series":"PO","year":1900,"value":0.065},{"series":"PO","year":1905,"value":0.0653},{"series":"PO","year":1910,"value":0.065},{"series":"PO","year":1915,"value":0.0625},{"series":"PO","year":1920,"value":0.061},
{"series":"FT","year":1650,"value":0.0442},{"series":"FT","year":1655,"value":0.0438},{"series":"FT","year":1660,"value":0.0441},{"series":"FT","year":1665,"value":0.0446},{"series":"FT","year":1670,"value":0.0451},{"series":"FT","year":1675,"value":0.0456},{"series":"FT","year":1680,"value":0.046},{"series":"FT","year":1685,"value":0.0464},{"series":"FT","year":1690,"value":0.0468},{"series":"FT","year":1695,"value":0.0472},{"series":"FT","year":1700,"value":0.0479},{"series":"FT","year":1705,"value":0.0487},{"series":"FT","year":1710,"value":0.0496},{"series":"FT","year":1715,"value":0.0503},{"series":"FT","year":1720,"value":0.051},{"series":"FT","year":1725,"value":0.0517},{"series":"FT","year":1730,"value":0.0523},{"series":"FT","year":1735,"value":0.053},{"series":"FT","year":1740,"value":0.0537},{"series":"FT","year":1745,"value":0.0542},{"series":"FT","year":1750,"value":0.0546},{"series":"FT","year":1755,"value":0.0551},{"series":"FT","year":1760,"value":0.0556},{"series":"FT","year":1765,"value":0.0561},{"series":"FT","year":1770,"value":0.0566},{"series":"FT","year":1775,"value":0.0578},{"series":"FT","year":1780,"value":0.0588},{"series":"FT","year":1785,"value":0.0592},{"series":"FT","year":1790,"value":0.0592},{"series":"FT","year":1795,"value":0.0582},{"series":"FT","year":1800,"value":0.0625},{"series":"FT","year":1805,"value":0.066},{"series":"FT","year":1810,"value":0.07},{"series":"FT","year":1815,"value":0.0728},{"series":"FT","year":1820,"value":0.0762},{"series":"FT","year":1825,"value":0.0785},{"series":"FT","year":1830,"value":0.0795},{"series":"FT","year":1835,"value":0.08},{"series":"FT","year":1840,"value":0.08},{"series":"FT","year":1845,"value":0.0799},{"series":"FT","year":1850,"value":0.0796},{"series":"FT","year":1855,"value":0.0787},{"series":"FT","year":1860,"value":0.0778},{"series":"FT","year":1865,"value":0.0772},{"series":"FT","year":1870,"value":0.0768},{"series":"FT","year":1875,"value":0.0773},{"series":"FT","year":1880,"value":0.0788},{"series":"FT","year":1885,"value":0.0822},{"series":"FT","year":1890,"value":0.086},{"series":"FT","year":1895,"value":0.0875},{"series":"FT","year":1900,"value":0.089},{"series":"FT","year":1905,"value":0.0917},{"series":"FT","year":1910,"value":0.0943},{"series":"FT","year":1915,"value":0.0917},{"series":"FT","year":1920,"value":0.0926}
]
},
"concat": [
{
 "width": 305, "height": 257,
 "data": {"name": "A"},
 "title": {"text": ["Panel A. Model versus data:", "Nonfarm labor/total"], "dx": -76.6, "offset": 18.3},
 "encoding": {
  "x": {"field": "year", "type": "quantitative", "scale": {"domain": [1650, 1920], "nice": false, "zero": false}, "axis": {"values": [1650, 1700, 1750, 1800, 1850, 1900], "title": "Year"}},
  "y": {"field": "value", "type": "quantitative", "scale": {"domain": [0.4, 1.01], "nice": false, "zero": false}, "axis": {"values": [0.4, 0.5, 0.6, 0.7, 0.8, 0.9, 1], "title": "Nonfarm labor/total labor", "titlePadding": 13.4}}
 },
 "layer": [
  {"mark": {"type": "line"}, "encoding": {
   "color": {"field": "series", "type": "nominal", "scale": {"domain": ["AE","FT","PO","TE","DA"], "range": ["#231f20","#ed1c24","#ed1c24","#ed1c24","#00aeef"]}, "legend": {"title": null, "orient": "none", "legendX": 6, "legendY": -3.8, "symbolType": "M-1,0H5.27", "symbolSize": 225, "labelFontSize": 16, "labelFont": "Liberation Sans", "labelColor": "#231f20", "labelOffset": 43, "labelLimit": 400, "strokeColor": "#231f20", "fillColor": "white", "padding": 7, "rowPadding": 1.2, "labelExpr": "{'AE':'All effects','FT':'All but farm technology','PO':'All but population','TE':'All but trade expansion','DA':'Data'}[datum.label]", "encode": {"symbols": {"update": {"strokeWidth": {"signal": "datum.value === 'PO' ? 2.8 : 1.3"}}}}}},
   "strokeDash": {"field": "series", "type": "nominal", "scale": {"domain": ["AE","FT","PO","TE","DA"], "range": [[1,0],[1,0],[10,5],[1.2,2.4],[1,0]]}, "legend": {"title": null, "orient": "none", "legendX": 6, "legendY": -3.8, "symbolType": "M-1,0H5.27", "symbolSize": 225, "labelFontSize": 16, "labelFont": "Liberation Sans", "labelColor": "#231f20", "labelOffset": 43, "labelLimit": 400, "strokeColor": "#231f20", "fillColor": "white", "padding": 7, "rowPadding": 1.2, "labelExpr": "{'AE':'All effects','FT':'All but farm technology','PO':'All but population','TE':'All but trade expansion','DA':'Data'}[datum.label]", "encode": {"symbols": {"update": {"strokeWidth": {"signal": "datum.value === 'PO' ? 2.8 : 1.3"}}}}}},
   "strokeWidth": {"condition": [{"test": "datum.series === 'PO'", "value": 2.8}, {"test": "datum.series === 'FT' || datum.series === 'DA'", "value": 1.3}], "value": 1.1}
  }},
  {"transform": [{"filter": "datum.series === 'FT'"}], "mark": {"type": "point", "shape": "M-1,0H1M0,-1V1", "size": 100, "filled": false, "color": "#ed1c24", "strokeWidth": 1.3, "opacity": 1}},
  {"transform": [{"filter": "datum.series === 'AE'"}], "mark": {"type": "circle", "size": 6, "color": "#231f20", "opacity": 1}},
  {"transform": [{"filter": "datum.series === 'DA'"}], "mark": {"type": "circle", "size": 6, "color": "#00aeef", "opacity": 1}}
 ]
},
{
 "width": 305, "height": 257,
 "data": {"name": "B"},
 "title": {"text": ["Panel B. Model versus data:", "Nonfarm labor/total, 1750–1850"], "dx": -86.6, "offset": 15},
 "encoding": {
  "x": {"field": "year", "type": "quantitative", "scale": {"domain": [1750, 1850], "nice": false, "zero": false}, "axis": {"values": [1750, 1800, 1850], "title": "Year"}},
  "y": {"field": "value", "type": "quantitative", "scale": {"domain": [0.45, 0.6], "nice": false, "zero": false}, "axis": {"values": [0.45, 0.5, 0.55, 0.6], "title": "Nonfarm labor/total labor", "titlePadding": 19.3}}
 },
 "layer": [
  {"mark": {"type": "line"}, "encoding": {
   "color": {"field": "series", "type": "nominal", "scale": {"domain": ["AE","FT","PO","TE","DA"], "range": ["#231f20","#ed1c24","#ed1c24","#ed1c24","#00aeef"]}, "legend": null},
   "strokeDash": {"field": "series", "type": "nominal", "scale": {"domain": ["AE","FT","PO","TE","DA"], "range": [[1,0],[1,0],[10,5],[1.2,2.4],[1,0]]}, "legend": null},
   "strokeWidth": {"condition": [{"test": "datum.series === 'PO'", "value": 2.8}, {"test": "datum.series === 'FT' || datum.series === 'DA'", "value": 1.3}], "value": 1.1}
  }},
  {"transform": [{"filter": "datum.series === 'AE'"}], "mark": {"type": "circle", "size": 6, "color": "#231f20", "opacity": 1}}
 ]
},
{
 "width": 305, "height": 257,
 "data": {"name": "C"},
 "title": {"text": ["Panel C. Model versus data:", "Nonfarm output/total"], "dx": -76.6, "offset": 16},
 "encoding": {
  "x": {"field": "year", "type": "quantitative", "scale": {"domain": [1650, 1920], "nice": false, "zero": false}, "axis": {"values": [1650, 1700, 1750, 1800, 1850, 1900], "title": "Year"}},
  "y": {"field": "value", "type": "quantitative", "scale": {"domain": [0.33, 1.01], "nice": false, "zero": false}, "axis": {"values": [0.4, 0.5, 0.6, 0.7, 0.8, 0.9, 1], "title": "Nonfarm output/total output", "titlePadding": 16.8}}
 },
 "layer": [
  {"mark": {"type": "line"}, "encoding": {
   "color": {"field": "series", "type": "nominal", "scale": {"domain": ["AE","FT","PO","TE","DA"], "range": ["#231f20","#ed1c24","#ed1c24","#ed1c24","#00aeef"]}, "legend": null},
   "strokeDash": {"field": "series", "type": "nominal", "scale": {"domain": ["AE","FT","PO","TE","DA"], "range": [[1,0],[1,0],[10,5],[1.2,2.4],[1,0]]}, "legend": null},
   "strokeWidth": {"condition": [{"test": "datum.series === 'PO'", "value": 2.8}, {"test": "datum.series === 'FT' || datum.series === 'DA'", "value": 1.3}], "value": 1.1}
  }},
  {"transform": [{"filter": "datum.series === 'FT'"}], "mark": {"type": "point", "shape": "M-1,0H1M0,-1V1", "size": 100, "filled": false, "color": "#ed1c24", "strokeWidth": 1.3, "opacity": 1}},
  {"transform": [{"filter": "datum.series === 'AE'"}], "mark": {"type": "circle", "size": 6, "color": "#231f20", "opacity": 1}},
  {"transform": [{"filter": "datum.series === 'DA'"}], "mark": {"type": "circle", "size": 6, "color": "#00aeef", "opacity": 1}}
 ]
},
{
 "width": 305, "height": 257,
 "data": {"name": "D"},
 "title": {"text": ["Panel D. Model versus data:", "Real GDP/capita"], "dx": -86.6, "offset": 21.9},
 "encoding": {
  "x": {"field": "year", "type": "quantitative", "scale": {"domain": [1650, 1920], "nice": false, "zero": false}, "axis": {"values": [1650, 1700, 1750, 1800, 1850, 1900], "title": "Year"}},
  "y": {"field": "value", "type": "quantitative", "scale": {"domain": [4.4, 6.2], "nice": false, "zero": false}, "axis": {"values": [4.5, 5, 5.5, 6], "title": "log (y)", "titlePadding": 31.5}}
 },
 "layer": [
  {"mark": {"type": "line"}, "encoding": {
   "color": {"field": "series", "type": "nominal", "scale": {"domain": ["AE","FT","PO","TE","DA"], "range": ["#231f20","#ed1c24","#ed1c24","#ed1c24","#00aeef"]}, "legend": null},
   "strokeDash": {"field": "series", "type": "nominal", "scale": {"domain": ["AE","FT","PO","TE","DA"], "range": [[1,0],[1,0],[10,5],[1.2,2.4],[1,0]]}, "legend": null},
   "strokeWidth": {"condition": [{"test": "datum.series === 'PO'", "value": 2.8}, {"test": "datum.series === 'FT' || datum.series === 'DA'", "value": 1.3}], "value": 1.1}
  }},
  {"transform": [{"filter": "datum.series === 'FT'"}], "mark": {"type": "point", "shape": "M-1,0H1M0,-1V1", "size": 100, "filled": false, "color": "#ed1c24", "strokeWidth": 1.3, "opacity": 1}},
  {"transform": [{"filter": "datum.series === 'AE'"}], "mark": {"type": "circle", "size": 6, "color": "#231f20", "opacity": 1}},
  {"transform": [{"filter": "datum.series === 'DA'"}], "mark": {"type": "circle", "size": 6, "color": "#00aeef", "opacity": 1}}
 ]
},
{
 "width": 305, "height": 257,
 "data": {"name": "E"},
 "title": {"text": ["Panel E. Model versus data:", "Relative farm price"], "dx": -78.9, "offset": 13.2},
 "encoding": {
  "x": {"field": "year", "type": "quantitative", "scale": {"domain": [1650, 1920], "nice": false, "zero": false}, "axis": {"values": [1650, 1700, 1750, 1800, 1850, 1900], "title": "Year"}},
  "y": {"field": "value", "type": "quantitative", "scale": {"domain": [0.5, 6], "nice": false, "zero": false}, "axis": {"values": [1, 2, 3, 4, 5, 6], "title": "pA/pM", "titleFont": "Liberation Serif", "titleFontStyle": "italic", "titleFontSize": 22, "titlePadding": 24.6}}
 },
 "layer": [
  {"mark": {"type": "line"}, "encoding": {
   "color": {"field": "series", "type": "nominal", "scale": {"domain": ["AE","FT","PO","TE","DA"], "range": ["#231f20","#ed1c24","#ed1c24","#ed1c24","#00aeef"]}, "legend": null},
   "strokeDash": {"field": "series", "type": "nominal", "scale": {"domain": ["AE","FT","PO","TE","DA"], "range": [[1,0],[1,0],[10,5],[1.2,2.4],[1,0]]}, "legend": null},
   "strokeWidth": {"condition": [{"test": "datum.series === 'PO'", "value": 2.8}, {"test": "datum.series === 'FT' || datum.series === 'DA'", "value": 1.3}], "value": 1.1}
  }},
  {"transform": [{"filter": "datum.series === 'FT'"}], "mark": {"type": "point", "shape": "M-1,0H1M0,-1V1", "size": 100, "filled": false, "color": "#ed1c24", "strokeWidth": 1.3, "opacity": 1}},
  {"transform": [{"filter": "datum.series === 'AE'"}], "mark": {"type": "circle", "size": 6, "color": "#231f20", "opacity": 1}},
  {"transform": [{"filter": "datum.series === 'DA'"}], "mark": {"type": "circle", "size": 6, "color": "#00aeef", "opacity": 1}}
 ]
},
{
 "width": 305, "height": 257,
 "data": {"name": "F"},
 "title": {"text": ["Panel F. Investment rate"], "dx": -80, "offset": 48.9},
 "encoding": {
  "x": {"field": "year", "type": "quantitative", "scale": {"domain": [1650, 1920], "nice": false, "zero": false}, "axis": {"values": [1650, 1700, 1750, 1800, 1850, 1900], "title": "Year"}},
  "y": {"field": "value", "type": "quantitative", "scale": {"domain": [0.03, 0.13], "nice": false, "zero": false}, "axis": {"values": [0.04, 0.06, 0.08, 0.1, 0.12], "title": "Investment rate", "titlePadding": 19.3}}
 },
 "layer": [
  {"mark": {"type": "line"}, "encoding": {
   "color": {"field": "series", "type": "nominal", "scale": {"domain": ["AE","FT","PO","TE","DA"], "range": ["#231f20","#ed1c24","#ed1c24","#ed1c24","#00aeef"]}, "legend": null},
   "strokeDash": {"field": "series", "type": "nominal", "scale": {"domain": ["AE","FT","PO","TE","DA"], "range": [[1,0],[1,0],[10,5],[1.2,2.4],[1,0]]}, "legend": null},
   "strokeWidth": {"condition": [{"test": "datum.series === 'PO'", "value": 2.8}, {"test": "datum.series === 'FT' || datum.series === 'DA'", "value": 1.3}], "value": 1.1}
  }},
  {"transform": [{"filter": "datum.series === 'FT'"}], "mark": {"type": "point", "shape": "M-1,0H1M0,-1V1", "size": 100, "filled": false, "color": "#ed1c24", "strokeWidth": 1.3, "opacity": 1}},
  {"transform": [{"filter": "datum.series === 'AE'"}], "mark": {"type": "circle", "size": 6, "color": "#231f20", "opacity": 1}},
  {"transform": [{"filter": "datum.series === 'DA'"}], "mark": {"type": "circle", "size": 6, "color": "#00aeef", "opacity": 1}}
 ]
}
]
}
